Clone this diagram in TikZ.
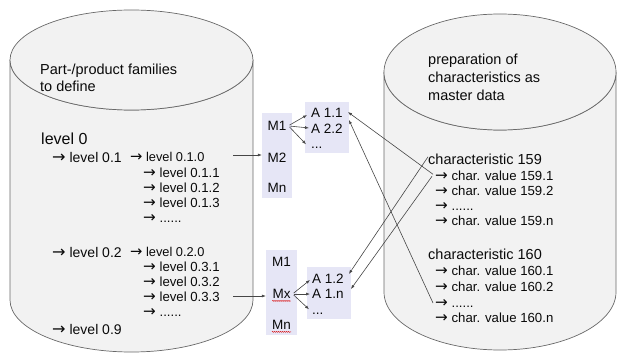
\documentclass[tikz,border=0pt]{standalone}
\usepackage{fontspec}
\usepackage{graphicx}
\setmainfont{Liberation Sans}
\newfontfamily\arrowfont{DejaVu Sans}
\newcommand\myarr{{\arrowfont\scalebox{1.15}{→}}}
\usetikzlibrary{arrows.meta,calc,decorations.pathmorphing}
\definecolor{cylfill}{RGB}{242,242,242}
\definecolor{cylline}{RGB}{105,105,105}
\definecolor{boxfill}{RGB}{230,230,246}
\definecolor{linec}{RGB}{70,70,70}
\definecolor{txtc}{RGB}{10,10,10}
\tikzset{
  cyl/.style={draw=cylline, fill=cylfill, line width=0.7pt},
  tx/.style={inner sep=0pt, anchor=base west, text=txtc},
  tbig/.style={tx, font=\fontsize{16}{18}\selectfont},
  thead/.style={tx, font=\fontsize{14.5}{17}\selectfont},
  tlev/.style={tx, font=\fontsize{14}{16}\selectfont},
  titem/.style={tx, font=\fontsize{13.2}{15}\selectfont},
  tsub/.style={tx, font=\fontsize{12.8}{15}\selectfont},
  tbox/.style={inner sep=0pt, anchor=base, text=txtc, font=\fontsize{13.5}{15}\selectfont},
  tboxl/.style={tx, font=\fontsize{13.5}{15}\selectfont},
  mbox/.style={fill=boxfill, draw=none, inner sep=0pt},
  conn/.style={draw=linec, line width=0.6pt, -{Latex[length=4pt,width=3pt]}},
  squig/.style={draw=red!85!black, line width=0.4pt, decorate, decoration={snake, amplitude=0.5pt, segment length=2pt}}
}
\begin{document}
\begin{tikzpicture}[x=1pt,y=-1pt]
\useasboundingbox (0,0) rectangle (617,358);

% left cylinder
\path[cyl] (10,60) -- (10,300) arc[start angle=180,end angle=0,x radius=121.5,y radius=52]
  -- (253,60) arc[start angle=0,end angle=180,x radius=121.5,y radius=50] -- cycle;
\path[cyl] (131.5,60) ellipse[x radius=121.5, y radius=50];

% right cylinder
\path[cyl] (384,72) -- (384,292) arc[start angle=180,end angle=0,x radius=116,y radius=58]
  -- (616,72) arc[start angle=0,end angle=180,x radius=116,y radius=58] -- cycle;
\path[cyl] (500,72) ellipse[x radius=116, y radius=58];

% left texts
\node[thead] (lt1) at (40,75) {Part-/product families};
\node[thead] (lt2) at (40,92) {to define};
\node[tbig] (l0) at (41,144) {level 0};
\node[tlev] (l01) at (52,162) {\myarr\ level 0.1};
\node[tsub] (l010) at (130,161.5) {\myarr\ level 0.1.0};
\node[titem] (l011) at (143,177.7) {\myarr\ level 0.1.1};
\node[titem] (l012) at (143,192.7) {\myarr\ level 0.1.2};
\node[titem] (l013) at (143,207.7) {\myarr\ level 0.1.3};
\node[titem] (l01d) at (143,222.7) {\myarr\ ......};
\node[tlev] (l02) at (52,257) {\myarr\ level 0.2};
\node[tsub] (l020) at (130,256.5) {\myarr\ level 0.2.0};
\node[titem] (l031) at (143,271.7) {\myarr\ level 0.3.1};
\node[titem] (l032) at (143,286.7) {\myarr\ level 0.3.2};
\node[titem] (l033) at (143,301.7) {\myarr\ level 0.3.3};
\node[titem] (l03d) at (143,316.7) {\myarr\ ......};
\node[tlev] (l09) at (52,334) {\myarr\ level 0.9};

% right texts
\node[thead] (rt1) at (428,65) {preparation of};
\node[thead] (rt2) at (428,83) {characteristics as};
\node[thead] (rt3) at (428,101) {master data};
\node[thead] (c159) at (428,164) {characteristic 159};
\node[titem] (v1) at (435,180) {\myarr\ char. value 159.1};
\node[titem] (v2) at (435,195) {\myarr\ char. value 159.2};
\node[titem] (vd) at (435,210) {\myarr\ ......};
\node[titem] (vn) at (435,225) {\myarr\ char. value 159.n};
\node[thead] (c160) at (428,259) {characteristic 160};
\node[titem] (w1) at (435,275) {\myarr\ char. value 160.1};
\node[titem] (w2) at (435,291) {\myarr\ char. value 160.2};
\node[titem] (wd) at (435,307) {\myarr\ ......};
\node[titem] (wn) at (435,322) {\myarr\ char. value 160.n};

% middle boxes
\node[mbox, minimum width=30pt, minimum height=85pt] (mb1) at (277,155.5) {};
\node[mbox, minimum width=44pt, minimum height=51pt] (ab1) at (327,127.5) {};
\node[mbox, minimum width=31pt, minimum height=85pt] (mb2) at (281.5,292.5) {};
\node[mbox, minimum width=44pt, minimum height=52pt] (ab2) at (329,293) {};

\node[tbox] (m11) at (277,130.7) {M1};
\node[tbox] (m12) at (277,162) {M2};
\node[tbox] (m1n) at (277,192) {Mn};
\node[tbox] (m21) at (281.5,266.7) {M1};
\node[tbox] (m2x) at (281.5,298.7) {Mx};
\node[tbox] (m2n) at (281.5,329.7) {Mn};

\node[tboxl] (a11) at (311,117.7) {A 1.1};
\node[tboxl] (a22) at (311,133.7) {A 2.2};
\node[tboxl] (a1d) at (311,149) {...};
\node[tboxl] (a12) at (312,283.7) {A 1.2};
\node[tboxl] (a1n) at (312,298.7) {A 1.n};
\node[tboxl] (a2d) at (312,314) {...};

% red spell-check squiggles
\draw[squig] ($(m2x.south west)+(0,2)$) -- ($(m2x.south east)+(0,2)$);
\draw[squig] ($(m2n.south west)+(0,2)$) -- ($(m2n.south east)+(0,2)$);

% left connectors
\coordinate (s1) at (233,155);
\coordinate (s2) at (233,296);
\draw[conn] (s1) -- (s1 -| mb1.west);
\draw[conn] (s2) -- (s2 -| mb2.west);

% M -> A connectors
\draw[conn] ($(m11.east)+(3,-1)$) -- ($(a11.west)+(-4,2)$);
\draw[conn] ($(m11.east)+(3,0)$) -- ($(a22.west)+(-2,-1)$);
\draw[conn] ($(m11.east)+(3,1)$) -- ($(a1d.west)+(-5,-4)$);
\draw[conn] ($(m2x.east)+(3,-1)$) -- ($(a12.west)+(-2,1)$);
\draw[conn] ($(m2x.east)+(3,0)$) -- ($(a1n.west)+(-2,0)$);
\draw[conn] ($(m2x.east)+(3,1)$) -- ($(a2d.west)+(-3,-4)$);

% characteristic connectors
\draw[conn] ($(v1.west)+(-2,-1)$) -- ($(a11.east)+(5,-1)$);
\draw[conn] ($(wd.west)+(-2,0)$) -- ($(a22.east)+(6,-9)$);
\draw[conn] ($(c159.west)+(0,-2)$) -- ($(a12.east)+(5,-5)$);
\draw[conn] ($(v1.west)+(-3,1)$) -- ($(a1n.east)+(7,-5)$);
\end{tikzpicture}
\end{document}
